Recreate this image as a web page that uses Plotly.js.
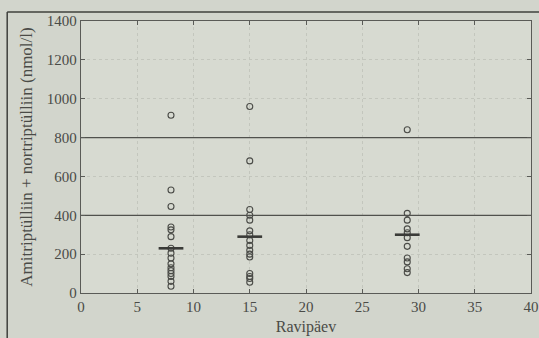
<!DOCTYPE html>
<html>
<head>
<meta charset="utf-8">
<script src="https://cdn.plot.ly/plotly-3.0.1.min.js"></script>
<style>html,body{margin:0;padding:0;background:#d2d5cc;}#chart{width:539px;height:338px;}</style>
</head>
<body>
<div id="chart"></div>
<script>
// Data
const days = [8, 15, 29];
const day8Values = [915, 530, 445, 340, 325, 290, 230, 205, 180, 150, 130, 115, 100, 85, 60, 35];
const day15Values = [960, 680, 430, 400, 375, 320, 300, 270, 245, 220, 200, 185, 100, 85, 75, 55];
const day29Values = [840, 410, 375, 330, 310, 285, 240, 180, 160, 125, 105];
const medians = [230, 290, 300];
const medianHalfWidth = 1.1;
const referenceLevels = [400, 800];
const xTicks = [0, 5, 10, 15, 20, 25, 30, 35, 40];
const yTicks = [0, 200, 400, 600, 800, 1000, 1200, 1400];

const allValues = [day8Values, day15Values, day29Values];
const ink = '#4a4b47';

const traces = [];
allValues.forEach((vals, i) => {
  traces.push({
    type: 'scatter', mode: 'markers',
    x: vals.map(() => days[i]), y: vals,
    marker: {symbol: 'circle-open', size: 6, color: ink, line: {width: 1.1, color: ink}},
    hoverinfo: 'x+y', showlegend: false
  });
});
// median bars
const mx = [], my = [];
days.forEach((d, i) => {
  mx.push(d - medianHalfWidth, d + medianHalfWidth, null);
  my.push(medians[i], medians[i], null);
});
traces.push({type: 'scatter', mode: 'lines', x: mx, y: my,
  line: {color: '#3a3b38', width: 2.6}, showlegend: false, hoverinfo: 'skip'});
// reference lines
const rx = [], ry = [];
referenceLevels.forEach(v => { rx.push(0, 40, null); ry.push(v, v, null); });
traces.push({type: 'scatter', mode: 'lines', x: rx, y: ry,
  line: {color: '#50514d', width: 1.2}, showlegend: false, hoverinfo: 'skip'});

const font = {family: '"Liberation Serif", "DejaVu Serif", serif', size: 15, color: ink};

const layout = {
  width: 539, height: 338,
  margin: {l: 81, r: 8, t: 21, b: 45, pad: 0},
  paper_bgcolor: '#d2d5cc',
  plot_bgcolor: '#d7dad1',
  font: font,
  showlegend: false,
  xaxis: {
    range: [0, 40], tickvals: xTicks, ticktext: xTicks.map(String),
    showgrid: true, gridcolor: '#c3c6bd', griddash: 'dot', gridwidth: 1,
    zeroline: false, showline: true, linecolor: '#5a5b57', linewidth: 1.2, mirror: 'ticks',
    ticks: 'inside', ticklen: 4, tickcolor: '#5a5b57',
    tickfont: {family: font.family, size: 15, color: ink},
    title: {text: 'Ravipäev', font: {family: font.family, size: 16, color: ink}, standoff: 6}
  },
  yaxis: {
    range: [0, 1400], tickvals: yTicks, ticktext: yTicks.map(String),
    showgrid: true, gridcolor: '#c3c6bd', griddash: 'dot', gridwidth: 1,
    zeroline: false, showline: true, linecolor: '#5a5b57', linewidth: 1.2, mirror: 'ticks',
    ticks: 'inside', ticklen: 4, tickcolor: '#5a5b57',
    tickfont: {family: font.family, size: 15, color: ink},
    title: {text: 'Amitriptülliin + nortriptülliin (nmol/l)', font: {family: font.family, size: 17, color: ink}, standoff: 9}
  },
  shapes: [
    {type: 'line', xref: 'paper', yref: 'paper', x0: -0.164, x1: 1.02, y0: 1.033, y1: 1.033,
     line: {color: '#3f403c', width: 1.5}},
    {type: 'line', xref: 'paper', yref: 'paper', x0: -0.164, x1: -0.164, y0: -0.2, y1: 1.033,
     line: {color: '#3f403c', width: 1.5}}
  ]
};

Plotly.newPlot('chart', traces, layout, {staticPlot: true, displayModeBar: false});
</script>
</body>
</html>
